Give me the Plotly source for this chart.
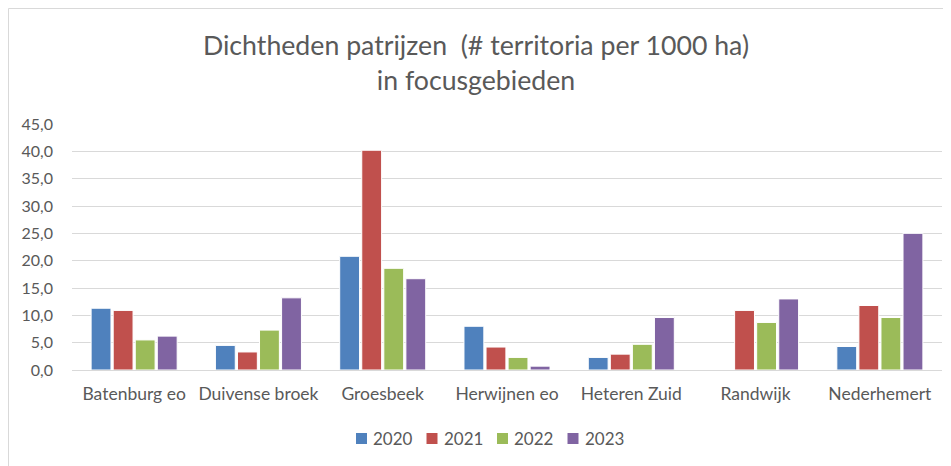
import plotly.graph_objects as go

categories = ["Batenburg eo", "Duivense broek", "Groesbeek", "Herwijnen eo",
              "Heteren Zuid", "Randwijk", "Nederhemert"]
v2020 = [11.3, 4.5, 20.8, 8.0, 2.3, None, 4.3]
v2021 = [10.9, 3.3, 40.2, 4.2, 2.9, 10.9, 11.8]
v2022 = [5.5, 7.3, 18.6, 2.3, 4.7, 8.7, 9.6]
v2023 = [6.2, 13.2, 16.7, 0.7, 9.6, 13.0, 25.0]
series_names = ["2020", "2021", "2022", "2023"]
colors = ["#4F81BD", "#C0504D", "#9BBB59", "#8064A2"]

# page offset of 8px (default body margin) is compensated
OFF = 8
W, H = 951, 466
L, R, T, B = 72 - OFF, 17, 124 - OFF, 104
pw, ph = W - L - R, H - T - B

def py(page_y):
    # page pixel y -> paper coordinate
    return (370 - page_y) / ph

def px(page_x):
    return (page_x - 72) / pw

fig = go.Figure()
for name, vals, c in zip(series_names, [v2020, v2021, v2022, v2023], colors):
    fig.add_trace(go.Bar(x=categories, y=vals, name=name, marker_color=c,
                         marker_line_color="white", marker_line_width=1,
                         showlegend=False))

font = "Lato, Carlito, Calibri, sans-serif"
fig.update_layout(
    width=W, height=H,
    margin=dict(l=L, r=R, t=T, b=B),
    paper_bgcolor="white", plot_bgcolor="white",
    barmode="group", bargap=0.29, bargroupgap=0.1,
    separators=",.",
    font=dict(family=font, color="#595959", size=15),
    title=dict(text="Dichtheden patrijzen  (# territoria per 1000 ha)<br>in focusgebieden",
               x=(476 - OFF) / W, xref="container", xanchor="center",
               y=1 - (55 - OFF) / H, yref="container", yanchor="middle",
               font=dict(family=font, size=26.7, color="#595959")),
    showlegend=False,
)
fig.update_yaxes(range=[0, 45], dtick=5, tickformat=".1f", showgrid=True,
                 gridcolor="#D9D9D9", gridwidth=1, zeroline=False,
                 showline=False, ticks="", ticklabelstandoff=18,
                 tickfont=dict(size=16, color="#595959"))
fig.update_xaxes(showline=True, linecolor="#D9D9D9", linewidth=1, ticks="",
                 tickfont=dict(size=17.5, color="#595959"), ticklabelstandoff=8)

# chart border
fig.add_shape(type="rect", xref="paper", yref="paper",
              x0=px(OFF + 0.5), x1=px(980),
              y0=py(500), y1=py(OFF + 0.5),
              line=dict(color="#D9D9D9", width=1), fillcolor="rgba(0,0,0,0)",
              layer="below")

# legend (drawn like the Excel legend: small squares + labels)
leg_x0, leg_pitch, sq = 356, 70.5, 11
leg_cy = 438.5
for i, (name, c) in enumerate(zip(series_names, colors)):
    x0 = leg_x0 + i * leg_pitch
    fig.add_shape(type="rect", xref="paper", yref="paper",
                  x0=px(x0), x1=px(x0 + sq),
                  y0=py(leg_cy + sq / 2), y1=py(leg_cy - sq / 2),
                  line=dict(width=0), fillcolor=c)
    fig.add_annotation(xref="paper", yref="paper", x=px(x0 + sq + 4),
                       y=py(leg_cy), xanchor="left", yanchor="middle",
                       text=name, showarrow=False,
                       font=dict(family=font, size=17, color="#595959"))

fig.write_html("out.html")
